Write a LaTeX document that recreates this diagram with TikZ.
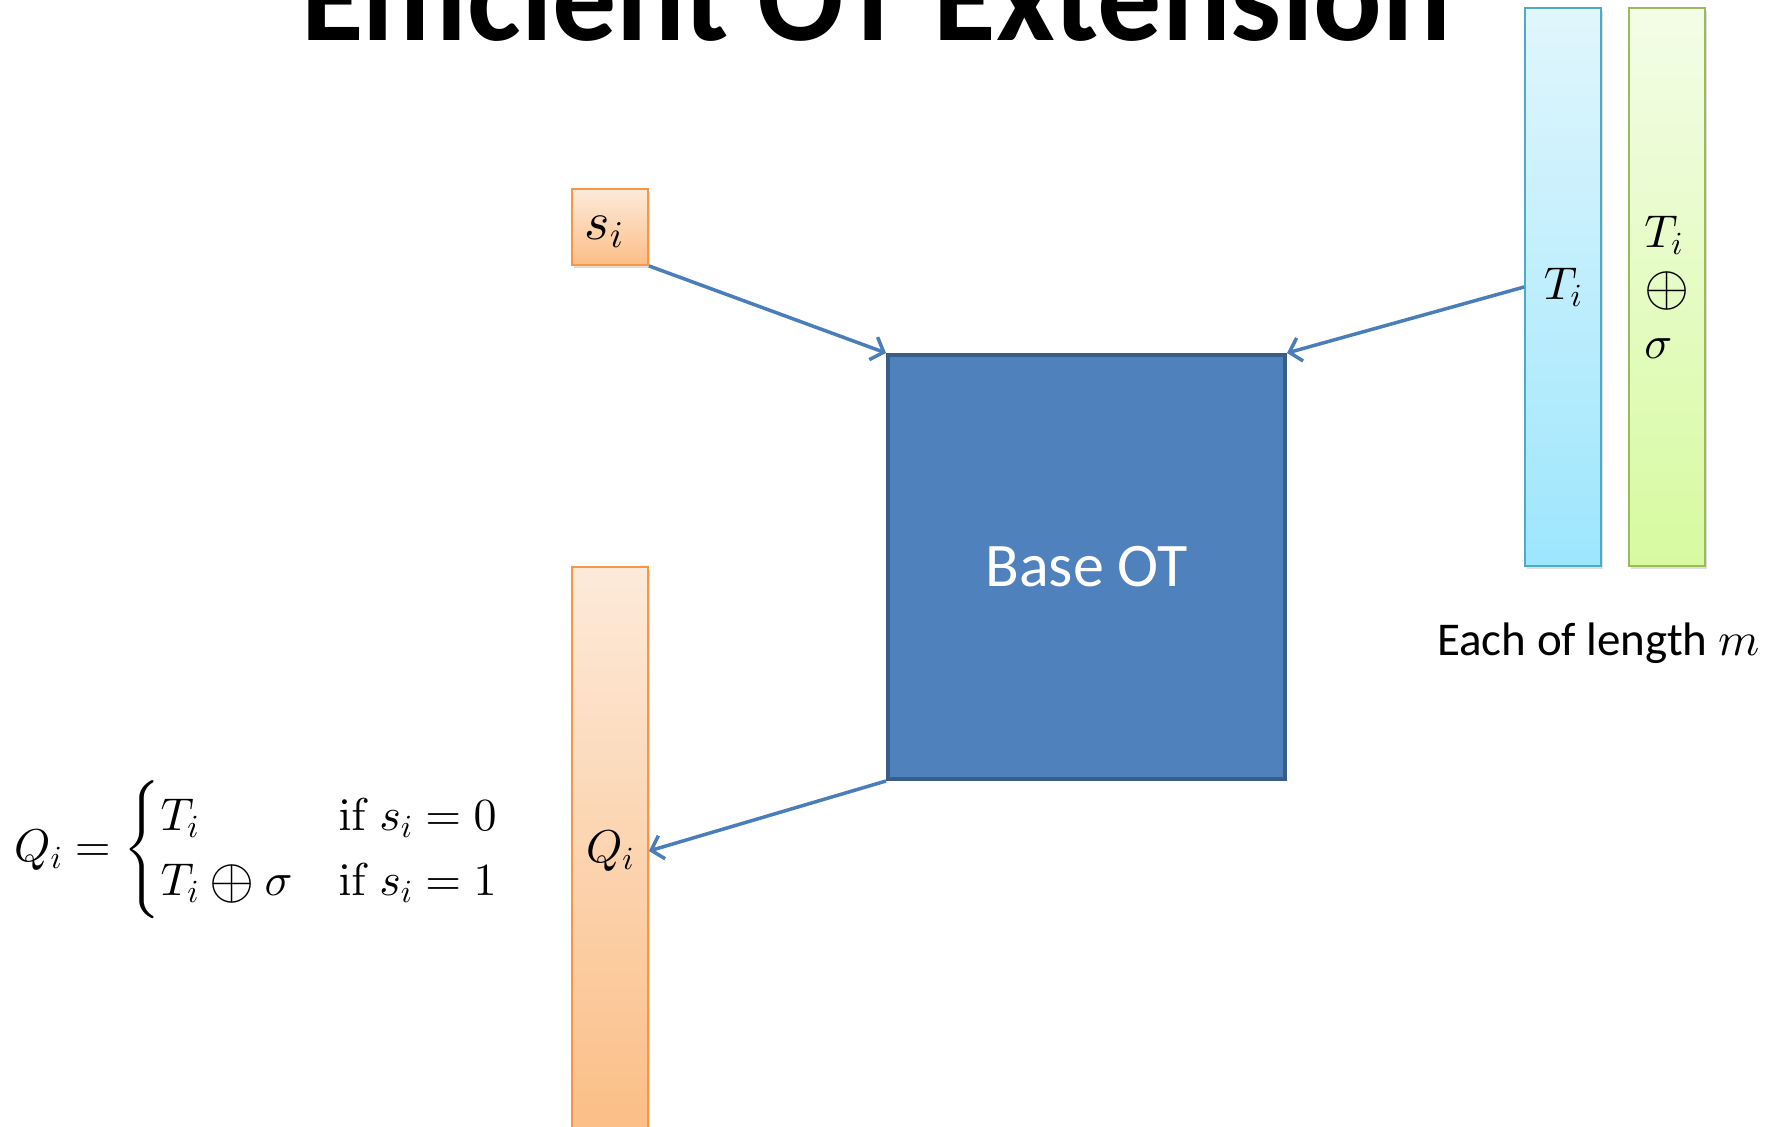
\documentclass[tikz,border=0pt]{standalone}
\usepackage{amsmath}
\usepackage[no-math]{fontspec}
\setmainfont{Carlito}
\DeclareFontShape{OML}{cmm}{m}{it}{<->cmmi10}{}
\DeclareFontShape{OT1}{cmr}{m}{n}{<->cmr10}{}
\DeclareFontShape{OMS}{cmsy}{m}{n}{<->cmsy10}{}
\DeclareFontShape{OMX}{cmex}{m}{n}{<->cmex10}{}
\usetikzlibrary{arrows.meta,shadows}
\definecolor{orangeedge}{HTML}{F79646}
\definecolor{orangetop}{HTML}{FDEADA}
\definecolor{orangebot}{HTML}{FBBE86}
\definecolor{blueedge}{HTML}{4BACC6}
\definecolor{bluetop}{HTML}{E1F6FD}
\definecolor{bluebot}{HTML}{9DE6FD}
\definecolor{greenedge}{HTML}{9BBB59}
\definecolor{greentop}{HTML}{F3FDE7}
\definecolor{greenbot}{HTML}{D7FAA0}
\definecolor{basefill}{HTML}{4F81BD}
\definecolor{baseedge}{HTML}{385D8A}
\definecolor{arrowblue}{HTML}{4A7EBB}
\newcommand\mymath{\fontsize{46}{55}\selectfont}
\newcommand\xorop{\mathbin{\vcenter{\hbox{\fontsize{58}{60}\selectfont$\oplus$}}}}
\begin{document}
\begin{tikzpicture}[x=1pt,y=-1pt,
  bar/.style={draw, line width=1.8pt, minimum width=76pt, inner sep=0pt,
    font=\mymath, drop shadow={shadow xshift=2pt,shadow yshift=-3pt,opacity=0.25}},
  orangebar/.style={bar, draw=orangeedge, top color=orangetop, bottom color=orangebot},
  bluebar/.style={bar, draw=blueedge, top color=bluetop, bottom color=bluebot},
  greenbar/.style={bar, draw=greenedge, top color=greentop, bottom color=greenbot},
  link/.style={draw=arrowblue, line width=3.5pt, -{Straight Barb[length=11pt,width=24pt]}}
]
\useasboundingbox (0,0) rectangle (1783,1127);
\fill[white] (0,0) rectangle (1783,1127);

\node[anchor=base, font=\fontsize{128}{130}\selectfont\bfseries] (title) at (876,40) {Efficient OT Extension};

\node[orangebar, minimum height=76pt,
  label={[font=\fontsize{54}{60}\selectfont, inner sep=0pt, xshift=-6pt, yshift=-5pt]center:$s_i$}] (si) at (610,227) {};
\node[orangebar, minimum height=568pt] (Qi) at (610,851) {$Q_i$\hspace{4pt}};
\node[bluebar, minimum height=558pt] (Ti) at (1563,287) {$T_i$\hspace{6pt}};
\node[greenbar, minimum height=558pt, align=left] (Tsig) at (1667,287) {$T_i$\\[0pt]$\xorop$\\[1pt]$\sigma$\hspace{12pt}};

\node[draw=baseedge, line width=4pt, fill=basefill, minimum width=397pt, minimum height=424pt,
  inner sep=0pt, text=white, font=\fontsize{62}{70}\selectfont] (base) at (1086.5,567) {Base OT};

\node[anchor=base west, inner sep=0pt, font=\fontsize{47}{55}\selectfont] (len) at (1437,655) {Each of length $m$};

\node[anchor=west, inner sep=0pt, font=\fontsize{46}{54}\selectfont] (eq) at (14,850)
  {$Q_i = \def\arraystretch{0.95}\begin{cases} T_i & \mathrm{if}\ s_i = 0\\ T_i \xorop \sigma & \mathrm{if}\ s_i = 1\end{cases}$};

\draw[link] (si.south east) -- (base.north west);
\draw[link] (Ti.west) -- (base.north east);
\draw[link] (base.south west) -- (Qi.east);
\end{tikzpicture}
\end{document}
